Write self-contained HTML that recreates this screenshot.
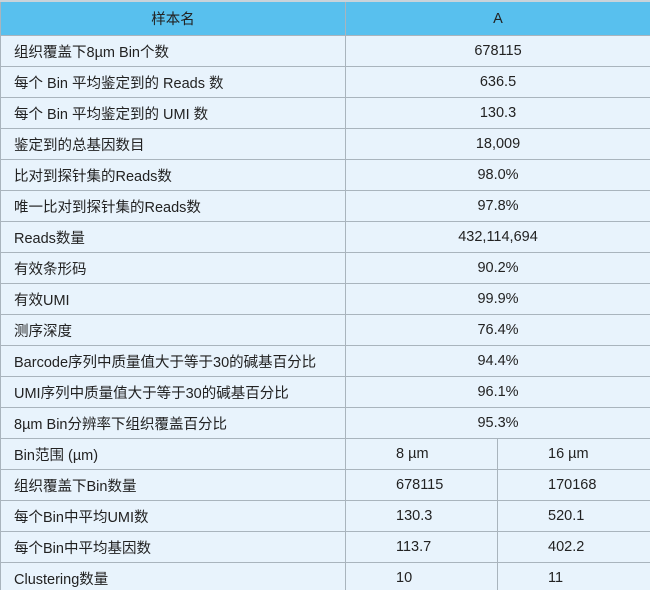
<!DOCTYPE html>
<html><head><meta charset="utf-8"><style>
html,body{margin:0;padding:0;background:#fff;width:650px;height:590px;overflow:hidden}
table{border-collapse:collapse;width:650px;table-layout:fixed;font-family:"Liberation Sans","Noto Sans CJK SC",sans-serif;font-size:14.5px;color:#222}
td,th{border:1px solid #a9b4bd;padding:0;height:30px;background:#e8f3fc}
th{background:#58c0ee;height:33px;font-weight:normal;text-align:center;border-top:2px solid #c9d3da}
td.l{padding-left:13px;text-align:left}
td.c{text-align:center}
td.s{padding-left:50px;text-align:left}
</style></head><body>
<table>
<colgroup><col style="width:345px"><col style="width:152px"><col style="width:153px"></colgroup>
<tr><th>样本名</th><th colspan="2">A</th></tr>
<tr><td class="l">组织覆盖下8µm Bin个数</td><td colspan="2" class="c">678115</td></tr>
<tr><td class="l">每个 Bin 平均鉴定到的 Reads 数</td><td colspan="2" class="c">636.5</td></tr>
<tr><td class="l">每个 Bin 平均鉴定到的 UMI 数</td><td colspan="2" class="c">130.3</td></tr>
<tr><td class="l">鉴定到的总基因数目</td><td colspan="2" class="c">18,009</td></tr>
<tr><td class="l">比对到探针集的Reads数</td><td colspan="2" class="c">98.0%</td></tr>
<tr><td class="l">唯一比对到探针集的Reads数</td><td colspan="2" class="c">97.8%</td></tr>
<tr><td class="l">Reads数量</td><td colspan="2" class="c">432,114,694</td></tr>
<tr><td class="l">有效条形码</td><td colspan="2" class="c">90.2%</td></tr>
<tr><td class="l">有效UMI</td><td colspan="2" class="c">99.9%</td></tr>
<tr><td class="l">测序深度</td><td colspan="2" class="c">76.4%</td></tr>
<tr><td class="l">Barcode序列中质量值大于等于30的碱基百分比</td><td colspan="2" class="c">94.4%</td></tr>
<tr><td class="l">UMI序列中质量值大于等于30的碱基百分比</td><td colspan="2" class="c">96.1%</td></tr>
<tr><td class="l">8µm Bin分辨率下组织覆盖百分比</td><td colspan="2" class="c">95.3%</td></tr>
<tr><td class="l">Bin范围 (µm)</td><td class="s">8 µm</td><td class="s">16 µm</td></tr>
<tr><td class="l">组织覆盖下Bin数量</td><td class="s">678115</td><td class="s">170168</td></tr>
<tr><td class="l">每个Bin中平均UMI数</td><td class="s">130.3</td><td class="s">520.1</td></tr>
<tr><td class="l">每个Bin中平均基因数</td><td class="s">113.7</td><td class="s">402.2</td></tr>
<tr><td class="l">Clustering数量</td><td class="s">10</td><td class="s">11</td></tr>
</table>
</body></html>
